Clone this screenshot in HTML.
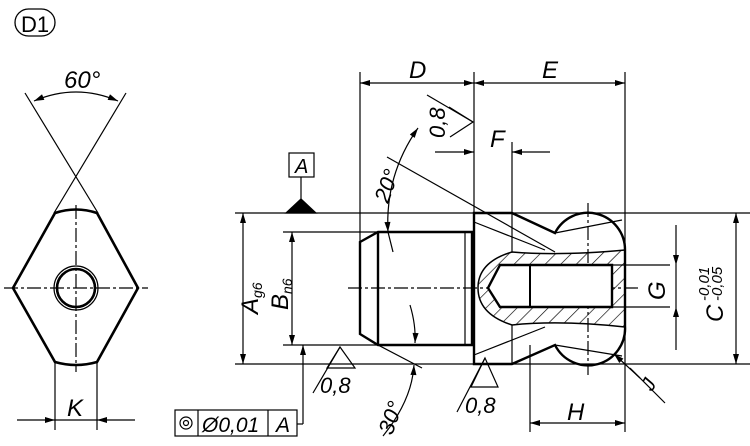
<!DOCTYPE html>
<html><head><style>body{margin:0;background:#fff}svg{display:block}text{font-family:"Liberation Sans Narrow","Liberation Sans",sans-serif;font-style:italic;fill:#000}</style></head><body>
<svg width="750" height="446" viewBox="0 0 750 446" xmlns="http://www.w3.org/2000/svg">
<defs>
<marker id="a" viewBox="0 0 10 6" refX="10" refY="3" markerWidth="15" markerHeight="6" markerUnits="userSpaceOnUse" orient="auto-start-reverse"><path d="M0,0L10,3L0,6z"/></marker>
<pattern id="h" width="11" height="11" patternUnits="userSpaceOnUse" patternTransform="rotate(45)"><line x1="0" y1="0" x2="0" y2="11" stroke="#000" stroke-width="1.3"/></pattern>
</defs>
<g stroke="#000" fill="none" stroke-width="1.2">
<rect x="15" y="9" width="40" height="27" rx="13.5" stroke-width="1.3"/>
<line x1="25" y1="93" x2="98" y2="213"/><line x1="126" y1="93" x2="54" y2="213"/>
<path d="M34,101 Q76,83 118,101" marker-start="url(#a)" marker-end="url(#a)"/>
<path d="M55,213 Q76,206 97,213 L138,288 L97,362 Q76,368 55,362 L13,288 Z" stroke-width="2.6"/>
<circle cx="76" cy="288" r="19" stroke-width="2.6"/><circle cx="76" cy="288" r="22"/>
<line x1="4" y1="288" x2="148" y2="288" stroke-dasharray="14,3,3,3"/>
<line x1="76" y1="205" x2="76" y2="372" stroke-dasharray="14,3,3,3"/>
<line x1="55" y1="362" x2="55" y2="430"/><line x1="97" y1="362" x2="97" y2="430"/>
<line x1="17" y1="420" x2="55" y2="420" marker-end="url(#a)"/><line x1="135" y1="420" x2="97" y2="420" marker-end="url(#a)"/>
<line x1="55" y1="420" x2="97" y2="420"/>
<line x1="235" y1="213" x2="750" y2="213"/><line x1="235" y1="364" x2="750" y2="364"/>
<line x1="283" y1="232" x2="378" y2="232"/><line x1="283" y1="345" x2="378" y2="345"/>
<line x1="243" y1="213" x2="243" y2="364" marker-start="url(#a)" marker-end="url(#a)"/>
<line x1="292" y1="232" x2="292" y2="345" marker-start="url(#a)" marker-end="url(#a)"/>
<line x1="360" y1="72" x2="360" y2="242"/><line x1="474" y1="72" x2="474" y2="213"/><line x1="625" y1="72" x2="625" y2="250"/>
<line x1="360" y1="83" x2="474" y2="83" marker-start="url(#a)" marker-end="url(#a)"/>
<line x1="474" y1="83" x2="625" y2="83" marker-start="url(#a)" marker-end="url(#a)"/>
<line x1="435" y1="152" x2="474" y2="152" marker-end="url(#a)"/><line x1="550" y1="152" x2="512" y2="152" marker-end="url(#a)"/>
<line x1="512" y1="142" x2="512" y2="213"/>
<line x1="530" y1="345" x2="530" y2="432"/><line x1="625" y1="326" x2="625" y2="432"/>
<line x1="530" y1="423" x2="625" y2="423" marker-start="url(#a)" marker-end="url(#a)"/>
<line x1="612" y1="265" x2="670" y2="265"/><line x1="612" y1="307" x2="670" y2="307"/>
<line x1="676" y1="225" x2="676" y2="265" marker-end="url(#a)"/><line x1="676" y1="350" x2="676" y2="307" marker-end="url(#a)"/>
<line x1="676" y1="265" x2="676" y2="307"/>
<line x1="736" y1="213" x2="736" y2="364" marker-start="url(#a)" marker-end="url(#a)"/>
<line x1="348" y1="288" x2="640" y2="288" stroke-dasharray="14,3,3,3"/>
<line x1="588" y1="203" x2="588" y2="375" stroke-dasharray="14,3,3,3"/>
<line x1="387" y1="157" x2="555" y2="252"/>
<path d="M418,128 Q385,175 388,232" marker-start="url(#a)" marker-end="url(#a)"/>
<line x1="388" y1="232" x2="393" y2="252"/>
<line x1="378" y1="345" x2="422" y2="368"/>
<path d="M410,305 Q416,325 415,343" marker-end="url(#a)"/>
<path d="M383,436 Q412,400 414,365" marker-end="url(#a)"/>
<g stroke-width="2.4">
<path d="M360,242 L378,232 L472,232 L472,345 L378,345 L360,334 Z"/>
<line x1="378" y1="232" x2="378" y2="345"/>
<path d="M474,213 L512,213 L555,233 A37,37 0 0 1 625,250 L625,326 A37,37 0 0 1 555,345 L512,364 L474,364 Z"/>
</g>
<line x1="465" y1="232" x2="465" y2="345"/>
<line x1="512" y1="213" x2="512" y2="252"/><line x1="512" y1="325" x2="512" y2="364"/>
<line x1="474" y1="222" x2="545" y2="250"/><line x1="474" y1="355" x2="545" y2="327"/>
<line x1="555" y1="233" x2="622" y2="220"/><line x1="555" y1="345" x2="622" y2="356"/>
<path d="M512,252 Q478,262 478,288 Q478,314 512,325 Q560,320 625,327 L625,250 Q560,256 512,252Z" fill="url(#h)" stroke-width="1.5"/>
<path d="M500,265 L612,265 L612,307 L500,307 L488,288 Z" fill="#fff" stroke-width="2.4"/>
<line x1="530" y1="265" x2="530" y2="307" stroke-width="2"/>
<line x1="665" y1="403" x2="630" y2="368"/><line x1="640" y1="378" x2="614" y2="354" marker-end="url(#a)"/>
<path d="M449,107 L473,122 L450,137"/><path d="M427,95 L473,122"/>
<path d="M340,347 L327,368 L355,368 Z"/><path d="M313,393 L340,347"/>
<path d="M485,358 L471,387 L498,387 Z"/><path d="M457,412 L485,358"/>
<rect x="289" y="153" width="25" height="24"/><line x1="301" y1="177" x2="301" y2="199"/>
<path d="M286,213 L301,199 L316,213 Z" fill="#000"/>
<line x1="303" y1="345" x2="303" y2="424" marker-start="url(#a)"/>
<line x1="297" y1="424" x2="303" y2="424"/>
<rect x="175" y="410" width="122" height="26"/>
<line x1="198" y1="410" x2="198" y2="436"/><line x1="268" y1="410" x2="268" y2="436"/>
<circle cx="186" cy="423" r="6"/><circle cx="186" cy="423" r="2.5"/>
</g>
<g font-size="24">
<text x="21" y="32" style="font-style:normal" font-size="22">D1</text>
<text x="64" y="88">60°</text>
<text x="67" y="416">K</text>
<text x="409" y="78">D</text><text x="542" y="78">E</text>
<text x="490" y="147">F</text>
<text x="567" y="420">H</text>
<text x="295" y="173" font-size="20">A</text>
<text x="320" y="393" font-size="22">0,8</text>
<text x="465" y="413" font-size="22">0,8</text>
<text x="445" y="138" font-size="22" transform="rotate(-90 445 138)">0,8</text>
<text x="388" y="204" font-size="22" transform="rotate(-70 388 204)">20°</text>
<text x="392" y="436" font-size="22" transform="rotate(-70 392 436)">30°</text>
<text x="258" y="314" transform="rotate(-90 258 314)">A<tspan font-size="14" dy="4">g6</tspan></text>
<text x="288" y="310" transform="rotate(-90 288 310)">B<tspan font-size="14" dy="4">n6</tspan></text>
<text x="665" y="300" transform="rotate(-90 665 300)">G</text>
<text x="723" y="322" transform="rotate(-90 723 322)">C</text>
<text x="709" y="301" font-size="15" transform="rotate(-90 709 301)">-0,01</text>
<text x="722" y="301" font-size="15" transform="rotate(-90 722 301)">-0,05</text>
<text x="652" y="392" font-size="20" transform="rotate(-60 652 392)">J</text>
<text x="202" y="432" font-size="21">Ø0,01</text>
<text x="276" y="432" font-size="21">A</text>
</g>
</svg>
</body></html>
